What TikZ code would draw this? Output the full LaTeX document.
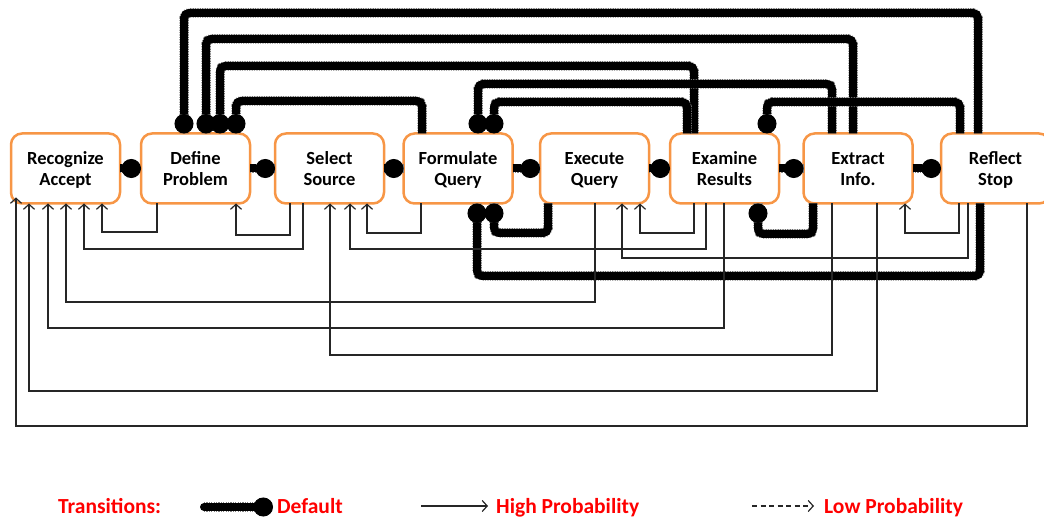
\documentclass[tikz,border=0pt]{standalone}
\usepackage{fontspec}
\setmainfont{Carlito}
\usetikzlibrary{arrows.meta}
\definecolor{boxorange}{RGB}{247,150,70}
% two-line stage label with fixed first-line height and last-line depth
\newcommand{\stagelabel}[2]{\rule{0pt}{18pt}#1\\#2\rule[-5pt]{0pt}{5pt}}
\begin{document}
\begin{tikzpicture}[x=1pt, y=-1pt,
  stage/.style={draw=boxorange, line width=2.5pt, rounded corners=11pt, fill=white,
    minimum width=109pt, minimum height=70pt, inner sep=0pt, outer sep=0pt,
    align=center, font=\fontsize{18.5}{21}\selectfont\bfseries},
  deflt/.style={line width=8pt, rounded corners=5pt,
    preaction={draw=black!50, line width=9.5pt, dash pattern=on 1.2pt off 1.2pt, arrows=-},
    -{Circle[length=19.5pt,width=19pt,line width=1pt]}},
  hiprob/.style={line width=1.2pt, draw=black!85,
    -{Straight Barb[length=5pt,width=11pt]}},
  lowprob/.style={hiprob, dash pattern=on 5pt off 3.5pt},
  legendtext/.style={text=red, font=\fontsize{21.5}{24}\selectfont\bfseries,
    anchor=base west, inner sep=0pt}]

\useasboundingbox (0,0) rectangle (1044,518);

% stages of the search process
\node[stage] (rec)  at (65.5,168.5)  {\stagelabel{Recognize}{Accept}};
\node[stage] (def)  at (195.5,168.5) {\stagelabel{Define}{Problem}};
\node[stage] (sel)  at (329.5,168.5) {\stagelabel{Select}{Source}};
\node[stage] (form) at (458,168.5)   {\stagelabel{Formulate}{Query}};
\node[stage] (exe)  at (594.5,168.5) {\stagelabel{Execute}{Query}};
\node[stage] (exam) at (724.5,168.5) {\stagelabel{Examine}{Results}};
\node[stage] (extr) at (858,168.5)   {\stagelabel{Extract}{Info.}};
\node[stage] (refl) at (995.5,168.5) {\stagelabel{Reflect}{Stop}};

\coordinate (recCorner) at ([xshift=5pt,yshift=6pt]rec.south west);

% default transitions: forward chain
\draw[deflt] (rec.east)  -- (def.west);
\draw[deflt] (def.east)  -- (sel.west);
\draw[deflt] (sel.east)  -- (form.west);
\draw[deflt] (form.east) -- (exe.west);
\draw[deflt] (exe.east)  -- (exam.west);
\draw[deflt] (exam.east) -- (extr.west);
\draw[deflt] (extr.east) -- (refl.west);

% default transitions: back over the top
\draw[deflt] (refl.north -| 978,0) -- (978,13)  -| (def.north -| 184,0);
\draw[deflt] (extr.north -| 853,0) -- (853,39)  -| (def.north -| 206,0);
\draw[deflt] (exam.north -| 694,0) -- (694,66)  -| (def.north -| 220,0);
\draw[deflt] (form.north -| 422,0) -- (422,101) -| (def.north -| 236,0);
\draw[deflt] (extr.north -| 832,0) -- (832,84)  -| (form.north -| 478,0);
\draw[deflt] (exam.north -| 687,0) -- (687,102) -| (form.north -| 494,0);
\draw[deflt] (refl.north -| 960,0) -- (960,102) -| (exam.north -| 767,0);

% default transitions: back underneath
\draw[deflt] (exe.south -| 548,0)  -- (548,233) -| (form.south -| 494,0);
\draw[deflt] (refl.south -| 980,0) -- (980,276) -| (form.south -| 477,0);
\draw[deflt] (extr.south -| 813,0) -- (813,234) -| (exam.south -| 758,0);

% high probability transitions
\draw[hiprob] (def.south -| 157,0)   -- (157,232)  -| (rec.south -| 102,0);
\draw[hiprob] (sel.south -| 290,0)   -- (290,235)  -| (def.south -| 236,0);
\draw[hiprob] (sel.south -| 303,0)   -- (303,249)  -| (rec.south -| 84,0);
\draw[hiprob] (form.south -| 421,0)  -- (421,233)  -| (sel.south -| 367,0);
\draw[hiprob] (exam.south -| 706,0)  -- (706,249)  -| (sel.south -| 350,0);
\draw[hiprob] (exe.south -| 595,0)   -- (595,302)  -| (rec.south -| 66,0);
\draw[hiprob] (exam.south -| 724,0)  -- (724,328)  -| (rec.south -| 48,0);
\draw[hiprob] (extr.south -| 832,0)  -- (832,355)  -| (sel.south -| 330,0);
\draw[hiprob] (extr.south -| 877,0)  -- (877,391)  -| (rec.south -| 29,0);
\draw[hiprob] (refl.south -| 1027,0) -- (1027,426) -| (recCorner);
\draw[hiprob] (exam.south -| 694,0)  -- (694,233)  -| (exe.south -| 640,0);
\draw[hiprob] (refl.south -| 968,0)  -- (968,258)  -| (exe.south -| 622,0);
\draw[hiprob] (refl.south -| 959,0)  -- (959,233)  -| (extr.south -| 905,0);

% legend
\node[legendtext] (lgT) at (58,513) {Transitions:};
\coordinate (ldA) at (204,507);
\coordinate (ldB) at (273,507);
\draw[deflt, line cap=round] (ldA) -- (ldB);
\node[legendtext] (lgD) at (277,513) {Default};
\coordinate (lhA) at (421,506);
\coordinate (lhB) at (488,506);
\draw[hiprob] (lhA) -- (lhB);
\node[legendtext] (lgH) at (496,513) {High Probability};
\coordinate (llA) at (752,506);
\coordinate (llB) at (814,506);
\draw[lowprob] (llA) -- (llB);
\node[legendtext] (lgL) at (824,513) {Low Probability};
\end{tikzpicture}
\end{document}
